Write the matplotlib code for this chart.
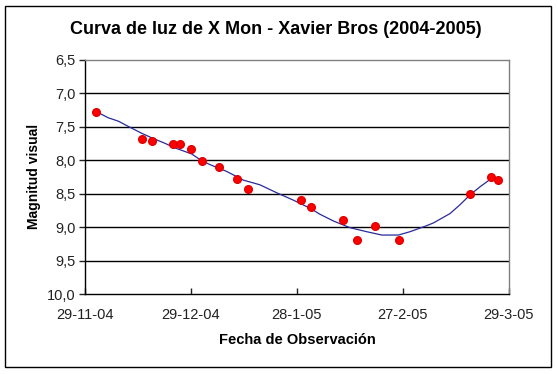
import matplotlib
matplotlib.use("Agg")
import matplotlib.pyplot as plt
import matplotlib.dates as mdates
import numpy as np
from matplotlib.patches import Rectangle

plt.rcParams['font.family'] = ['Liberation Sans', 'DejaVu Sans']

# Observations
obs_dates = ["2004-12-02", "2004-12-15", "2004-12-18", "2004-12-24", "2004-12-26",
             "2004-12-29", "2005-01-01", "2005-01-06", "2005-01-11", "2005-01-14",
             "2005-01-29", "2005-02-01", "2005-02-10", "2005-02-14", "2005-02-19",
             "2005-02-26", "2005-03-18", "2005-03-24", "2005-03-26"]
obs_mag = [7.29, 7.68, 7.72, 7.76, 7.76, 7.83, 8.01, 8.11, 8.28, 8.44,
           8.59, 8.70, 8.89, 9.20, 8.98, 9.20, 8.50, 8.26, 8.30]

# Trend line
trend_days = [3.3, 6.6, 9.4, 12.3, 16.0, 18.9, 22.6, 25.5, 30.2, 33.0, 35.4, 40.1,
              44.8, 49.5, 54.3, 59.0, 63.7, 66.5, 70.3, 75.0, 79.7, 84.0, 88.7,
              92.0, 96.2, 98.6, 103.3, 106.1, 109.0, 111.8, 114.9, 116.5]
trend_mag = [7.28, 7.37, 7.42, 7.50, 7.60, 7.67, 7.75, 7.82, 7.91, 8.01, 8.07, 8.17,
             8.30, 8.37, 8.49, 8.60, 8.72, 8.81, 8.91, 9.01, 9.07, 9.12, 9.12,
             9.07, 8.99, 8.94, 8.80, 8.67, 8.52, 8.40, 8.28, 8.30]

x_start = "2004-11-29"
x_end = "2005-03-29"
x_tick_dates = ["2004-11-29", "2004-12-29", "2005-01-28", "2005-02-27", "2005-03-29"]
x_tick_labels = ["29-11-04", "29-12-04", "28-1-05", "27-2-05", "29-3-05"]
y_ticks = [6.5, 7.0, 7.5, 8.0, 8.5, 9.0, 9.5, 10.0]
y_tick_labels = ["6,5", "7,0", "7,5", "8,0", "8,5", "9,0", "9,5", "10,0"]

W, H = 558, 374
fig = plt.figure(figsize=(W / 100, H / 100), dpi=100)
fig.patch.set_facecolor('white')

# outer frame
fig.patches.append(Rectangle((5 / W, 1 - 367 / H), (551 - 5) / W, (367 - 6) / H,
                             transform=fig.transFigure, fill=False,
                             edgecolor='black', linewidth=1.0))

ax = fig.add_axes([85 / W, 1 - 294 / H, (509 - 85) / W, (294 - 59.5) / H])

d0 = np.datetime64(x_start)
t_dates = [d0 + np.timedelta64(int(round(d * 24)), 'h') for d in trend_days]
t_num = mdates.date2num(np.array(t_dates, dtype='datetime64[h]').astype('datetime64[s]').astype(object))
ax.plot(t_num, trend_mag, color='#2a2a9a', linewidth=0.9, zorder=3)

o_num = mdates.date2num(np.array(obs_dates, dtype='datetime64[D]').astype(object))
ax.plot(o_num, obs_mag, linestyle='none', marker='o', markersize=5.5,
        color='#ff0000', markeredgecolor='#e00000', zorder=4)

ax.set_xlim(mdates.date2num(np.datetime64(x_start).astype(object)),
            mdates.date2num(np.datetime64(x_end).astype(object)))
ax.set_ylim(10.0, 6.5)

ax.set_yticks(y_ticks)
ax.set_yticklabels(y_tick_labels)
ax.set_xticks(mdates.date2num(np.array(x_tick_dates, dtype='datetime64[D]').astype(object)))
ax.set_xticklabels(x_tick_labels)

for y in y_ticks[1:-1]:
    ax.axhline(y, color='black', linewidth=1.0, zorder=1)

ax.spines['top'].set_color('#808080')
ax.spines['right'].set_color('#808080')
ax.spines['left'].set_color('black')
ax.spines['bottom'].set_color('black')
for s in ax.spines.values():
    s.set_linewidth(1.0)

ax.tick_params(axis='y', direction='out', length=4, width=1, labelsize=10.5, pad=3,
               colors='#222222')
ax.tick_params(axis='x', direction='in', length=4, width=1, labelsize=10.5, pad=10,
               colors='#222222')

ax.set_xlabel("Fecha de Observación", fontsize=10.5, fontweight='bold', labelpad=8)
ax.set_ylabel("Magnitud visual", fontsize=10, fontweight='bold', labelpad=4)

fig.text(276 / W, 1 - 30 / H, "Curva de luz de X Mon - Xavier Bros (2004-2005)",
         ha='center', va='center', fontsize=13, fontweight='bold')

fig.savefig("out.png", dpi=100)
